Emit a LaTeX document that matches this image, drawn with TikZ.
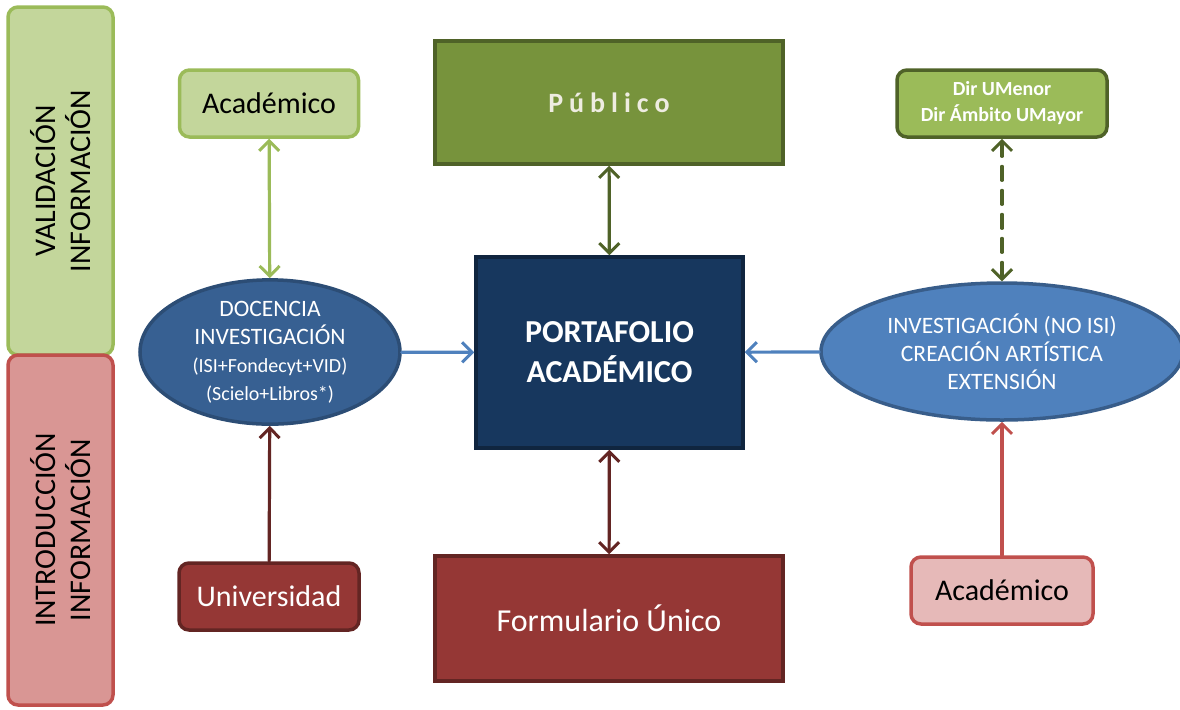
\documentclass[tikz,border=0pt]{standalone}
\usepackage{fontspec}
\setmainfont{Carlito}
\usetikzlibrary{arrows.meta,shapes.geometric}
\definecolor{valfill}{HTML}{C3D69B}
\definecolor{valdraw}{HTML}{9BBB59}
\definecolor{introfill}{HTML}{D99694}
\definecolor{introdraw}{HTML}{C0504D}
\definecolor{pubfill}{HTML}{77933C}
\definecolor{pubdraw}{HTML}{4F6228}
\definecolor{pubtext}{HTML}{EEECE1}
\definecolor{docfill}{HTML}{376092}
\definecolor{docdraw}{HTML}{2C4D75}
\definecolor{portfill}{HTML}{17375E}
\definecolor{portdraw}{HTML}{10253F}
\definecolor{extfill}{HTML}{4F81BD}
\definecolor{extdraw}{HTML}{385D8A}
\definecolor{univfill}{HTML}{953735}
\definecolor{univdraw}{HTML}{632523}
\definecolor{acadfill}{HTML}{E6B9B8}
\newcommand{\ls}{\hspace{3pt}}
\begin{document}
\begin{tikzpicture}[x=0.5pt, y=-0.5pt,
    box/.style={draw, line width=1.75pt, inner sep=0pt, align=center},
    rbox/.style={box, rounded corners=5pt},
    oval/.style={ellipse, draw, line width=1.75pt, inner sep=0pt, align=center,
      text=white, font=\fontsize{11.75}{14}\selectfont},
    link/.style={line width=1.6pt, line cap=round, arrows={-Straight Barb[length=5pt, width=10pt, line width=1.5pt]}},
    both/.style={link, arrows={Straight Barb[length=5pt, width=10pt, line width=1.5pt]-Straight Barb[length=5pt, width=10pt, line width=1.5pt]}}]
  \useasboundingbox (0,0) rectangle (1180,709);

  \node[rbox, fill=valfill, draw=valdraw, minimum width=52.5pt, minimum height=174pt] (valbox) at (60.5,181) {};
  \node[rbox, fill=introfill, draw=introdraw, minimum width=52.5pt, minimum height=175pt] (introbox) at (60.5,530) {};
  \node[rotate=90, align=center, font=\fontsize{15}{17.5}\selectfont] (valtext) at (valbox) {VALIDACIÓN\\INFORMACIÓN};
  \node[rotate=90, align=center, font=\fontsize{15}{17.5}\selectfont] (introtext) at (introbox) {INTRODUCCIÓN\\INFORMACIÓN};

  \node[rbox, fill=valfill, draw=valdraw, minimum width=89.5pt, minimum height=33.5pt, font=\fontsize{15}{18}\selectfont] (acadv) at (269,103.5) {Académico};
  \node[box, fill=pubfill, draw=pubdraw, minimum width=174pt, minimum height=61.5pt, text=pubtext, font=\bfseries\fontsize{14}{17}\selectfont] (pub) at (609,102.5) {P\ls ú\ls b\ls l\ls i\ls c\ls o};
  \node[rbox, fill=valdraw, draw=pubdraw, minimum width=105pt, minimum height=33.5pt, text=white, font=\bfseries\fontsize{10}{13}\selectfont] (dir) at (1002,103.5) {Dir UMenor\\Dir Ámbito UMayor};

  \node[oval, fill=docfill, draw=docdraw, minimum width=130pt, minimum height=60pt] (doc) at (270,352) {DOCENCIA\\INVESTIGACIÓN\\{\fontsize{10}{12}\selectfont (ISI+Fondecyt+VID)}\\{\fontsize{10}{12}\selectfont (Scielo+Libros*)}};
  \node[box, fill=portfill, draw=portdraw, minimum width=133.5pt, minimum height=95.5pt, text=white, font=\bfseries\fontsize{16}{20}\selectfont] (port) at (609.5,352.5) {PORTAFOLIO\\ACADÉMICO};
  \node[oval, fill=extfill, draw=extdraw, minimum width=181pt, minimum height=68.5pt] (ext) at (1002,351.5) {INVESTIGACIÓN (NO ISI)\\CREACIÓN ARTÍSTICA\\EXTENSIÓN};

  \node[rbox, fill=univfill, draw=univdraw, minimum width=90pt, minimum height=33.5pt, text=white, font=\fontsize{15}{18}\selectfont] (univ) at (269,596.5) {Universidad};
  \node[box, fill=univfill, draw=univdraw, minimum width=174pt, minimum height=62.5pt, text=white, font=\fontsize{16}{19}\selectfont] (form) at (609,618.5) {Formulario Único};
  \node[rbox, fill=acadfill, draw=introdraw, minimum width=91pt, minimum height=33.5pt, font=\fontsize{15}{18}\selectfont] (acadi) at (1002,590.5) {Académico};

  \draw[both, valdraw] (acadv) to (doc);
  \draw[both, pubdraw] (pub) to (port);
  \draw[both, pubdraw, dash pattern=on 7pt off 5pt] (dir) to (ext);
  \draw[link, extfill] (doc) to (port);
  \draw[link, extfill] (ext) to (port);
  \draw[link, univdraw] (univ) to (doc);
  \draw[both, univdraw] (port) to (form);
  \draw[link, introdraw] (acadi) to (ext);
\end{tikzpicture}
\end{document}
